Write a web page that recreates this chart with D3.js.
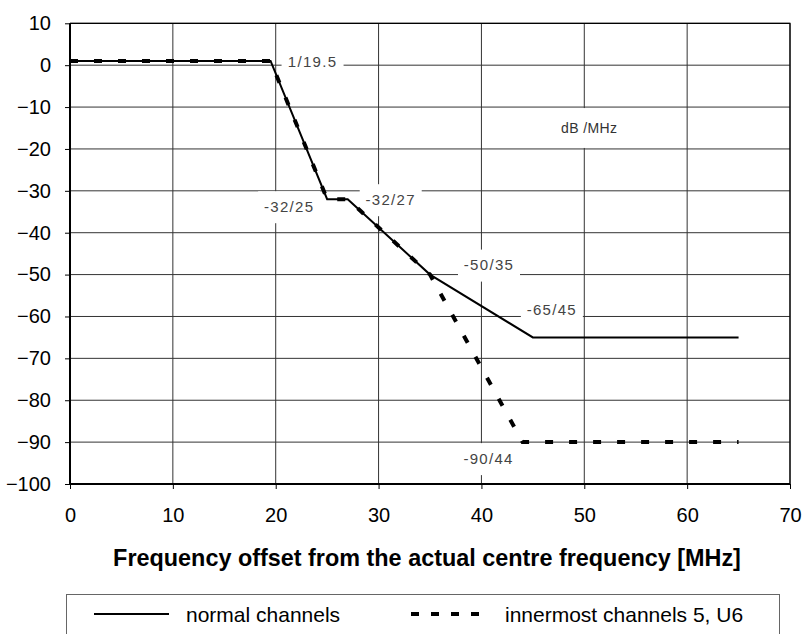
<!DOCTYPE html>
<html>
<head>
<meta charset="utf-8">
<script src="https://cdn.jsdelivr.net/npm/d3@7"></script>
<style>
  body { margin: 0; background: #fff; }
  svg { display: block; font-family: "Liberation Sans", Arial, sans-serif; }
</style>
</head>
<body>
<svg id="chart" width="803" height="634"></svg>
<script>
// frequency offset [MHz] / level [dB] breakpoints
const normalFreq = [0, 19.5, 25, 27, 35, 45, 65];
const normalLevel = [1, 1, -32, -32, -50, -65, -65];
const innerFreq = [0, 19.5, 25, 27, 35, 44, 65];
const innerLevel = [1, 1, -32, -32, -50, -90, -90];

const xTicks = [0, 10, 20, 30, 40, 50, 60, 70];
const yTicks = [10, 0, -10, -20, -30, -40, -50, -60, -70, -80, -90, -100];

// labelled breakpoints: [freq, level]
const labelPoints = [[19.5, 1], [25, -32], [27, -32], [35, -50], [45, -65], [44, -90]];

const seriesNames = ['normal channels', 'innermost channels 5, U6'];
const xTitle = 'Frequency offset from the actual centre frequency [MHz]';
const unitNote = 'dB /MHz';

const svg = d3.select('#chart');
const plotL = 70, plotR = 790, plotT = 23.3, plotB = 484;

const x = d3.scaleLinear().domain([0, 70]).range([plotL, plotR]);
const y = d3.scaleLinear().domain([-100, 10]).range([plotB, plotT]);

// grid
const grid = svg.append('g').attr('stroke', '#333').attr('stroke-width', 1);
grid.selectAll('.gx').data(xTicks.slice(1)).enter().append('line')
  .attr('x1', d => x(d)).attr('x2', d => x(d))
  .attr('y1', plotT).attr('y2', plotB);
grid.selectAll('.gy').data(yTicks).enter().append('line')
  .attr('x1', plotL).attr('x2', plotR)
  .attr('y1', d => y(d)).attr('y2', d => y(d));

// axes
const xAxis = svg.append('g')
  .attr('transform', `translate(0,${plotB})`)
  .call(d3.axisBottom(x).tickValues(xTicks).tickSize(5).tickPadding(19));
const yAxis = svg.append('g')
  .attr('transform', `translate(${plotL},0)`)
  .call(d3.axisLeft(y).tickValues(yTicks).tickSize(5).tickPadding(14));
[xAxis, yAxis].forEach(a => {
  a.select('.domain').attr('stroke', '#000').attr('stroke-width', 2);
  a.selectAll('.tick line').attr('stroke', '#000');
  a.selectAll('.tick text').attr('font-size', 20).attr('fill', '#000')
    .attr('font-family', '"Liberation Sans", Arial, sans-serif');
});
xAxis.select('.domain').attr('d', `M${plotL},0H${plotR}`);
yAxis.select('.domain').attr('d', `M0,${plotB}V${plotT}`);

// unit note box
const note = svg.append('g');
note.append('rect').attr('x', x(47.5)).attr('y', y(-10) + 1)
  .attr('width', 68).attr('height', y(-20) - y(-10) - 2).attr('fill', '#fff');
note.append('text').attr('x', x(50) + 5).attr('y', (y(-10) + y(-20)) / 2)
  .attr('text-anchor', 'middle').attr('dominant-baseline', 'central')
  .attr('font-size', 14).attr('letter-spacing', 0.4).attr('fill', '#333').text(unitNote);

// label boxes (drawn under the lines)
const labelOffsets = [[42, 1], [-38, 7], [43, 0], [59, -10], [19, -28], [-34, 16]];
const labels = svg.append('g');
labelPoints.forEach((p, i) => {
  const cx = x(p[0]) + labelOffsets[i][0];
  const cy = y(p[1]) + labelOffsets[i][1];
  labels.append('rect').attr('x', cx - 31).attr('y', cy - 15)
    .attr('width', 62).attr('height', 32).attr('fill', '#fff');
});

// lines
const line = d3.line().x(d => x(d[0])).y(d => y(d[1]));
const normal = normalFreq.map((f, i) => [f, normalLevel[i]]);
const inner = innerFreq.map((f, i) => [f, innerLevel[i]]);

svg.append('path').datum(normal).attr('d', line)
  .attr('fill', 'none').attr('stroke', '#000').attr('stroke-width', 2);
svg.append('path').datum(inner).attr('d', line)
  .attr('fill', 'none').attr('stroke', '#000').attr('stroke-width', 4)
  .attr('stroke-dasharray', '8,16');

// label texts
const labelText = svg.append('g');
labelPoints.forEach((p, i) => {
  const cx = x(p[0]) + labelOffsets[i][0];
  const cy = y(p[1]) + labelOffsets[i][1];
  labelText.append('text').attr('x', cx).attr('y', cy)
    .attr('text-anchor', 'middle').attr('dominant-baseline', 'central')
    .attr('font-size', 15).attr('letter-spacing', 1.3).attr('fill', '#444')
    .text(`${p[1]}/${p[0]}`);
});

// plot border top/right
svg.append('path').attr('d', `M${plotL},${plotT}H${plotR}V${plotB}`)
  .attr('fill', 'none').attr('stroke', '#000').attr('stroke-width', 1.2);

// x title
svg.append('text').attr('x', 427).attr('y', 566)
  .attr('text-anchor', 'middle').attr('font-size', 23.4).attr('font-weight', 'bold')
  .text(xTitle);

// legend
const legend = svg.append('g');
legend.append('rect').attr('x', 66.5).attr('y', 594.5).attr('width', 713).attr('height', 60)
  .attr('fill', '#fff').attr('stroke', '#666');
legend.append('line').attr('x1', 94).attr('x2', 169).attr('y1', 614).attr('y2', 614)
  .attr('stroke', '#000').attr('stroke-width', 2);
legend.append('text').attr('x', 186).attr('y', 614).attr('dominant-baseline', 'central')
  .attr('font-size', 21).text(seriesNames[0]);
legend.append('line').attr('x1', 411).attr('x2', 482).attr('y1', 614).attr('y2', 614)
  .attr('stroke', '#000').attr('stroke-width', 4).attr('stroke-dasharray', '8,12');
legend.append('text').attr('x', 505).attr('y', 614).attr('dominant-baseline', 'central')
  .attr('font-size', 21).text(seriesNames[1]);
</script>
</body>
</html>
